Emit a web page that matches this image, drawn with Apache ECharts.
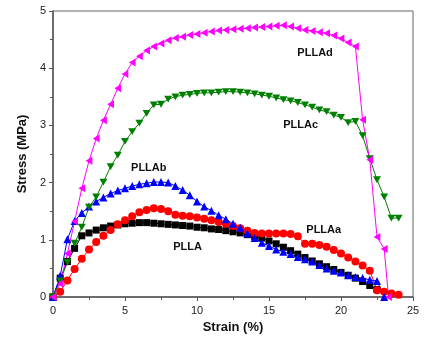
<!DOCTYPE html>
<html>
<head>
<meta charset="utf-8">
<script src="https://cdn.jsdelivr.net/npm/echarts@6/dist/echarts.min.js"></script>
<style>html,body{margin:0;padding:0;background:#fff}#c{width:431px;height:344px}</style>
</head>
<body>
<div id="c"></div>
<script>
const seriesNames = ['PLLA', 'PLLAa', 'PLLAb', 'PLLAc', 'PLLAd'];
const xTicks = [0, 5, 10, 15, 20, 25];
const yTicks = [0, 1, 2, 3, 4, 5];

const strainPLLA = [0,0.5,1,1.5,2,2.5,3,3.5,4,4.5,5,5.5,6,6.5,7,7.5,8,8.5,9,9.5,10,10.5,11,11.5,12,12.5,13,13.5,14,14.5,15,15.5,16,16.5,17,17.5,18,18.5,19,19.5,20,20.5,21,21.5,22,22.5];
const stressPLLA = [0,0.33,0.62,0.85,1.07,1.12,1.17,1.21,1.24,1.26,1.28,1.29,1.30,1.30,1.29,1.28,1.27,1.26,1.25,1.24,1.22,1.21,1.19,1.18,1.16,1.14,1.12,1.09,1.06,1.03,0.98,0.93,0.87,0.81,0.75,0.69,0.63,0.58,0.53,0.48,0.43,0.38,0.33,0.27,0.20,0.13];

const strainPLLAa = [0,0.5,1,1.5,2,2.5,3,3.5,4,4.5,5,5.5,6,6.5,7,7.5,8,8.5,9,9.5,10,10.5,11,11.5,12,12.5,13,13.5,14,14.5,15,15.5,16,16.5,17,17.5,18,18.5,19,19.5,20,20.5,21,21.5,22,22.5,23,23.5,24];
const stressPLLAa = [0,0.09,0.29,0.49,0.67,0.83,0.96,1.07,1.17,1.27,1.34,1.41,1.48,1.52,1.55,1.54,1.50,1.44,1.42,1.41,1.39,1.37,1.34,1.31,1.28,1.24,1.20,1.16,1.12,1.11,1.11,1.11,1.11,1.10,1.06,0.93,0.93,0.91,0.88,0.82,0.76,0.69,0.62,0.55,0.46,0.12,0.09,0.06,0.04];

const strainPLLAb = [0,0.5,1,1.5,2,2.5,3,3.5,4,4.5,5,5.5,6,6.5,7,7.5,8,8.5,9,9.5,10,10.5,11,11.5,12,12.5,13,13.5,14,14.5,15,15.5,16,16.5,17,17.5,18,18.5,19,19.5,20,20.5,21,21.5,22,22.5,23];
const stressPLLAb = [0,0.37,1.01,1.33,1.47,1.58,1.67,1.74,1.81,1.86,1.90,1.94,1.97,1.99,2.01,2.01,2.00,1.94,1.87,1.78,1.67,1.58,1.51,1.43,1.36,1.28,1.21,1.11,1.03,0.95,0.89,0.83,0.79,0.75,0.70,0.66,0.62,0.56,0.50,0.46,0.43,0.38,0.35,0.33,0.30,0.28,0];

const strainPLLAc = [0,0.5,1,1.5,2,2.5,3,3.5,4,4.5,5,5.5,6,6.5,7,7.5,8,8.5,9,9.5,10,10.5,11,11.5,12,12.5,13,13.5,14,14.5,15,15.5,16,16.5,17,17.5,18,18.5,19,19.5,20,20.5,21,21.5,22,22.5,23,23.5,24];
const stressPLLAc = [0,0.28,0.61,0.94,1.22,1.57,1.75,2.01,2.28,2.48,2.72,2.89,3.04,3.21,3.36,3.37,3.46,3.50,3.53,3.54,3.56,3.57,3.57,3.58,3.59,3.59,3.58,3.57,3.55,3.53,3.51,3.48,3.45,3.43,3.40,3.36,3.32,3.27,3.24,3.18,3.14,3.05,3.07,2.82,2.42,2.05,1.75,1.38,1.38];

const strainPLLAd = [0,0.5,1,1.5,2,2.5,3,3.5,4,4.5,5,5.5,6,6.5,7,7.5,8,8.5,9,9.5,10,10.5,11,11.5,12,12.5,13,13.5,14,14.5,15,15.5,16,16.5,17,17.5,18,18.5,19,19.5,20,20.5,21,21.5,22,22.5,23,23.3];
const stressPLLAd = [0,0.23,0.76,1.32,1.90,2.38,2.77,3.09,3.37,3.65,3.90,4.10,4.21,4.31,4.38,4.43,4.49,4.53,4.55,4.58,4.60,4.62,4.64,4.66,4.67,4.68,4.69,4.70,4.71,4.72,4.73,4.74,4.75,4.73,4.70,4.67,4.65,4.63,4.61,4.57,4.52,4.45,4.38,3.10,2.40,1.05,0.84,0];

const colors = ['#000000', '#ff0000', '#0000ff', '#008000', '#ff00ff'];
const symbols = ['rect', 'circle', 'path://M0,10 L20,0 L20,20 Z', 'path://M0,0 L20,0 L10,17 Z', 'path://M0,10 L17,0 L17,20 Z'];
const symbols2 = ['rect', 'circle', 'triangle', 'path://M0,0 L20,0 L10,17 Z', 'path://M0,10 L17,0 L17,20 Z'];
const sizes = [7, 8, 8, 8, 8];
const strains = [strainPLLA, strainPLLAa, strainPLLAb, strainPLLAc, strainPLLAd];
const stresses = [stressPLLA, stressPLLAa, stressPLLAb, stressPLLAc, stressPLLAd];

const labelPos = [[9.35, 0.88], [18.8, 1.18], [6.65, 2.25], [17.2, 3.0], [18.2, 4.27]];

const series = seriesNames.map((name, i) => ({
  name: name,
  type: 'line',
  data: strains[i].map((x, j) => [x, stresses[i][j]]),
  symbol: symbols2[i],
  symbolSize: sizes[i],
  symbolKeepAspect: true,
  showAllSymbol: true,
  lineStyle: { color: colors[i], width: 1 },
  itemStyle: { color: colors[i] },
  animation: false,
  markPoint: {
    symbol: 'rect', symbolSize: 1,
    itemStyle: { color: 'rgba(0,0,0,0)' },
    label: { show: true, formatter: name, color: '#111', fontWeight: 'bold', fontSize: 11, fontFamily: 'Liberation Sans, Arial, sans-serif', position: 'inside' },
    data: [{ coord: labelPos[i] }]
  }
}));

const chart = echarts.init(document.getElementById('c'), null, { renderer: 'canvas' });
chart.setOption({
  animation: false,
  backgroundColor: '#fff',
  grid: { left: 53, right: 18, top: 11, bottom: 47, show: true, borderColor: '#666', borderWidth: 1, backgroundColor: 'transparent' },
  xAxis: {
    type: 'value', min: 0, max: 25, interval: 5,
    name: 'Strain (%)', nameLocation: 'middle', nameGap: 24,
    nameTextStyle: { fontWeight: 'bold', fontSize: 13, color: '#111', fontFamily: 'Liberation Sans, Arial, sans-serif' },
    axisLine: { show: true, lineStyle: { color: '#555', width: 1.5 } },
    axisTick: { show: true, inside: false, length: 4, lineStyle: { color: '#555' } },
    minorTick: { show: true, splitNumber: 2, length: 3, lineStyle: { color: '#555' } },
    axisLabel: { color: '#222', fontSize: 11, margin: 8, fontFamily: 'Liberation Sans, Arial, sans-serif', formatter: v => xTicks.includes(v) ? String(v) : '' },
    splitLine: { show: false }
  },
  yAxis: {
    type: 'value', min: 0, max: 5, interval: 1,
    name: 'Stress (MPa)', nameLocation: 'middle', nameGap: 19, nameRotate: 90,
    nameTextStyle: { fontWeight: 'bold', fontSize: 13, color: '#111', fontFamily: 'Liberation Sans, Arial, sans-serif' },
    axisLine: { show: true, lineStyle: { color: '#555', width: 1.5 } },
    axisTick: { show: true, inside: false, length: 4, lineStyle: { color: '#555' } },
    minorTick: { show: true, splitNumber: 2, length: 3, lineStyle: { color: '#555' } },
    axisLabel: { color: '#222', fontSize: 11, margin: 7, fontFamily: 'Liberation Sans, Arial, sans-serif', formatter: v => yTicks.includes(v) ? String(v) : '' },
    splitLine: { show: false }
  },
  series: series
});
</script>
</body>
</html>
